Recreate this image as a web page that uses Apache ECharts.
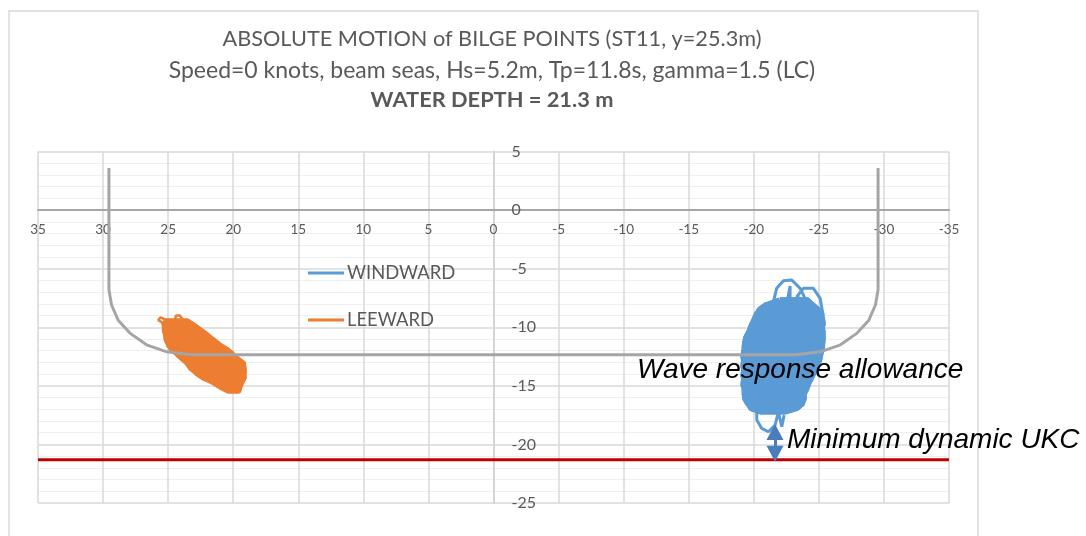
<!DOCTYPE html>
<html>
<head>
<meta charset="utf-8">
<style>html,body{margin:0;padding:0;background:#fff}#c{width:1086px;height:536px}</style>
<script src="https://cdn.jsdelivr.net/npm/echarts@6/dist/echarts.min.js"></script>
</head>
<body>
<div id="c"></div>
<script>
// Hull section
const hullX = [29.55,29.55,29.35,28.84,27.94,26.66,25.1,23.2,-23.2,-25.1,-26.66,-27.94,-28.84,-29.35,-29.55,-29.55];
const hullY = [3.6,-6.8,-8.1,-9.4,-10.5,-11.5,-12.1,-12.35,-12.35,-12.1,-11.5,-10.5,-9.4,-8.1,-6.8,3.6];

// Windward trace: sweep levels and the two extents reached at each level
const windLevel = [-7.7,-8.1,-8.5,-8.9,-9.3,-9.7,-10.1,-10.5,-10.9,-11.3,-11.7,-12.1,-12.5,-12.9,-13.3,-13.7,-14.1,-14.5,-14.9,-15.3,-15.7,-16.1,-16.5,-16.9,-17.2];
const windNear = [-22.0,-20.97,-20.46,-20.23,-20.07,-19.9,-19.75,-19.6,-19.41,-19.33,-19.3,-19.25,-19.2,-19.25,-19.2,-19.25,-19.2,-19.25,-19.2,-19.3,-19.3,-19.35,-19.56,-19.8,-20.58];
const windFar = [-24.1,-24.48,-24.94,-25.2,-25.25,-25.3,-25.25,-25.3,-25.3,-25.27,-25.25,-25.17,-25.09,-25.0,-24.73,-24.71,-24.5,-24.33,-24.15,-24.02,-23.84,-23.84,-23.71,-23.3,-22.43];
// Windward excursions outside the dense part
const windTopX = [-21.51,-21.76,-22.28,-22.92,-23.56,-24.07,-23.3,-23.81,-24.58,-25.1,-25.3,-24.6,-22.79,-22.79,-22.6];
const windTopY = [-7.82,-6.68,-6.03,-5.97,-6.68,-7.82,-7.4,-6.68,-6.68,-7.54,-8.8,-8.0,-7.54,-6.48,-7.6];
const windLowX = [-20.23,-20.23,-20.61,-21.12,-21.64,-21.89,-22.15,-22.33];
const windLowY = [-17.2,-17.92,-18.63,-18.92,-18.35,-17.2,-18.49,-17.5];

// Leeward trace
const leeLevel = [-9.5,-9.9,-10.3,-10.7,-11.1,-11.5,-11.9,-12.3,-12.7,-13.1,-13.5,-13.9,-14.3,-14.7,-15.1,-15.4];
const leeNear = [25.35,25.25,25.25,25.15,25.1,24.94,24.68,24.25,23.86,23.48,23.22,22.79,22.28,21.5,20.92,20.4];
const leeFar = [23.56,23.0,22.48,22.02,21.56,21.12,20.53,20.1,19.71,19.25,19.2,19.2,19.2,19.38,19.53,19.6];
const leeTopX = [25.3,25.76,25.58,25.25,24.48,24.4,24.1,23.84,24.6];
const leeTopY = [-9.7,-9.39,-9.16,-9.33,-9.44,-9.0,-9.0,-9.4,-9.7];

const waterDepth = -21.3;
const ukcX = -21.63;
const ukcArrowTop = -18.94;
const ukcArrowBottom = -20.79;
const titles = ['ABSOLUTE MOTION of BILGE POINTS (ST11, y=25.3m)','Speed=0 knots, beam seas, Hs=5.2m, Tp=11.8s, gamma=1.5 (LC)','WATER DEPTH = 21.3 m'];

const zip = (xs, ys) => xs.map((x, i) => [x, ys[i]]);
const sweep = (lv, a, b) => lv.flatMap((y, i) => i % 2 ? [[b[i], y], [a[i], y]] : [[a[i], y], [b[i], y]]);
const rim = (lv, a, b) => {
  const one = zip(a, lv), two = zip(b, lv).reverse();
  return one.concat(two, [one[0]]);
};
const BLUE = '#5b9bd5', ORANGE = '#ed7d31', INK = '#595959', FONT = 'Lato';
const base = {type:'line', showSymbol:false, symbol:'none', silent:true, animation:false};

const chart = echarts.init(document.getElementById('c'), null, {renderer:'canvas'});
chart.setOption({
  animation:false,
  backgroundColor:'#fff',
  grid:{left:38, right:137, top:151.5, bottom:33, outerBoundsMode:'none', containLabel:false},
  legend:{
    data:['WINDWARD','LEEWARD'], orient:'vertical', left:303, top:257, itemWidth:36, itemHeight:3, itemGap:25,
    icon:'rect',
    textStyle:{color:INK, fontFamily:FONT, fontSize:18.4, padding:[0,0,0,-2], lineHeight:22}, selectedMode:false
  },
  xAxis:{
    type:'value', inverse:true, min:-35, max:35, interval:5, position:'bottom', offset:-293,
    axisLine:{onZero:false, lineStyle:{color:'#a6a6a6', width:2}}, axisTick:{show:false},
    axisLabel:{color:INK, fontFamily:FONT, fontSize:13.5, margin:13, showMinLabel:true, showMaxLabel:true, hideOverlap:false},
    splitLine:{show:true, lineStyle:{color:'#d9d9d9', width:1.5}}
  },
  yAxis:{
    type:'value', min:-25, max:5, interval:5, position:'left', offset:-455.5,
    axisLine:{onZero:false, lineStyle:{color:'#d4d4d4', width:2}}, axisTick:{show:false},
    axisLabel:{color:INK, fontFamily:FONT, fontSize:16, margin:18, inside:true, align:'left', showMinLabel:true, showMaxLabel:true},
    splitLine:{show:true, lineStyle:{color:'#d9d9d9', width:1.5}},
    minorTick:{show:false, splitNumber:5},
    minorSplitLine:{show:true, lineStyle:{color:'#efefef', width:1}}
  },
  series:[
    {...base, name:'WINDWARD', z:3, lineStyle:{color:BLUE, width:6, join:'round'}, itemStyle:{color:BLUE}, data:sweep(windLevel, windNear, windFar)},
    {...base, name:'WINDWARD', z:3, lineStyle:{color:BLUE, width:6, join:'round'}, itemStyle:{color:BLUE}, data:rim(windLevel, windNear, windFar)},
    {...base, name:'WINDWARD', z:3, lineStyle:{color:BLUE, width:3}, itemStyle:{color:BLUE}, data:zip(windTopX, windTopY)},
    {...base, name:'WINDWARD', z:3, lineStyle:{color:BLUE, width:3}, itemStyle:{color:BLUE}, data:zip(windLowX, windLowY)},
    {...base, name:'LEEWARD', z:3, lineStyle:{color:ORANGE, width:6, join:'round'}, itemStyle:{color:ORANGE}, data:sweep(leeLevel, leeNear, leeFar)},
    {...base, name:'LEEWARD', z:3, lineStyle:{color:ORANGE, width:6, join:'round'}, itemStyle:{color:ORANGE}, data:rim(leeLevel, leeNear, leeFar)},
    {...base, name:'LEEWARD', z:3, lineStyle:{color:ORANGE, width:2.5}, itemStyle:{color:ORANGE}, data:zip(leeTopX, leeTopY)},
    {...base, name:'Hull', z:4, lineStyle:{color:'#a5a5a5', width:3}, data:zip(hullX, hullY)},
    {...base, name:'Bottom', z:4, lineStyle:{color:'#c00000', width:3}, data:[[35, waterDepth], [-35, waterDepth]],
      markLine:{silent:true, animation:false, symbol:['triangle','triangle'], symbolSize:[17,16], label:{show:false},
        lineStyle:{color:'#4a7ebb', width:3, type:'solid'},
        data:[[{coord:[ukcX, ukcArrowTop]}, {coord:[ukcX, ukcArrowBottom]}]]}}
  ],
  graphic:[
    {type:'rect', silent:true, z:-10, shape:{x:9, y:11, width:969, height:540}, style:{fill:'none', stroke:'#d9d9d9', lineWidth:1.5}},
    {type:'text', silent:true, x:492, y:39, style:{text:titles[0], align:'center', verticalAlign:'middle', fill:INK, font:'21.7px Lato'}},
    {type:'text', silent:true, x:492, y:71, style:{text:titles[1], align:'center', verticalAlign:'middle', fill:INK, font:'23px Lato'}},
    {type:'text', silent:true, x:492, y:100, style:{text:titles[2], align:'center', verticalAlign:'middle', fill:INK, font:'bold 21.8px Lato'}},
    {type:'text', silent:true, z:20, x:637, y:370, style:{text:'Wave response allowance', verticalAlign:'middle', fill:'#000', font:'italic 28px "Liberation Sans"'}},
    {type:'text', silent:true, z:20, x:787, y:440, style:{text:'Minimum dynamic UKC', verticalAlign:'middle', fill:'#000', font:'italic 28px "Liberation Sans"'}}
  ]
});
</script>
</body>
</html>
